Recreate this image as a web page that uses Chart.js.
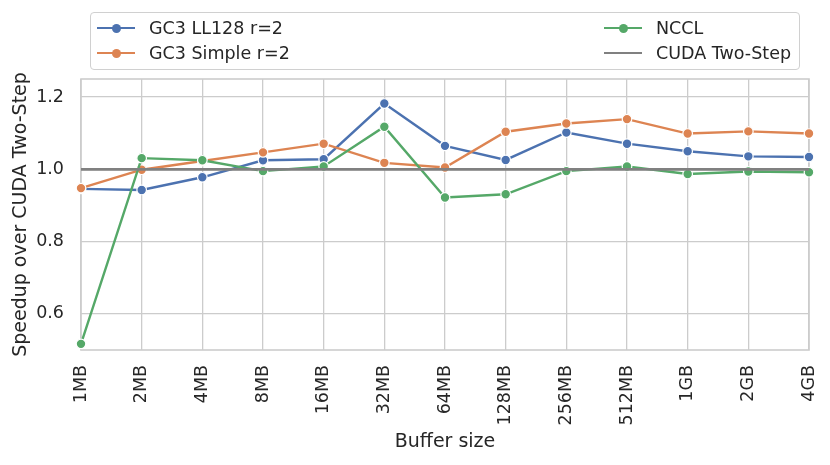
<!DOCTYPE html>
<html lang="en">
<head>
  <meta charset="UTF-8">
  <title>Speedup over CUDA Two-Step</title>
  <style>
    * {
      margin: 0;
      padding: 0;
      box-sizing: border-box;
    }

    body {
      background-color: #fff;
      font-family: "DejaVu Sans", sans-serif;
      color: #262626;
    }

    #wrap {
      position: relative;
      width: 830px;
      height: 465px;
    }

    #legend {
      position: absolute;
      left: 90px;
      top: 12px;
      width: 710px;
      height: 58px;
      border: 1.3px solid #d0d0d0;
      border-radius: 4px;
      background-color: rgba(255, 255, 255, 0.8);
    }

    .item {
      position: absolute;
      height: 24px;
      font-size: 17.5px;
      line-height: 24px;
      white-space: nowrap;
    }

    .handle {
      position: absolute;
      top: 11px;
      left: 0;
      width: 38px;
      height: 2.4px;
    }

    .dot {
      position: absolute;
      top: 7.5px;
      left: 14.5px;
      width: 9px;
      height: 9px;
      border-radius: 50%;
    }

    .label {
      position: absolute;
      left: 52px;
      top: 0;
    }
  </style>
  <script src="https://cdn.jsdelivr.net/npm/chart.js"></script>
</head>
<body>
  <div id="wrap">
    <canvas id="speedupChart" width="830" height="465"></canvas>
    <div id="legend"></div>
  </div>

  <script>
    // Buffer sizes on the x axis
    const bufferSizes = ['1MB', '2MB', '4MB', '8MB', '16MB', '32MB', '64MB',
      '128MB', '256MB', '512MB', '1GB', '2GB', '4GB'];

    // Speedup values
    const ll128Values = [0.946, 0.943, 0.978, 1.025, 1.028, 1.182, 1.065,
      1.026, 1.102, 1.071, 1.050, 1.036, 1.034];
    const simpleValues = [0.948, 0.999, 1.023, 1.047, 1.071, 1.018, 1.005,
      1.104, 1.127, 1.139, 1.099, 1.105, 1.099];
    const ncclValues = [0.517, 1.031, 1.025, 0.995, 1.008, 1.118, 0.922,
      0.931, 0.995, 1.008, 0.987, 0.994, 0.992];
    const cudaValues = [1.0, 1.0, 1.0, 1.0, 1.0, 1.0, 1.0,
      1.0, 1.0, 1.0, 1.0, 1.0, 1.0];

    const yTicks = [0.6, 0.8, 1.0, 1.2];

    const textColor = '#262626';
    const gridColor = '#cccccc';

    // Legend entries (left column first, like the original)
    const legendItems = [
      { text: 'GC3 LL128 r=2', color: '#4c72b0', marker: true, x: 6, y: 3 },
      { text: 'GC3 Simple r=2', color: '#dd8452', marker: true, x: 6, y: 28 },
      { text: 'NCCL', color: '#55a868', marker: true, x: 513, y: 3 },
      { text: 'CUDA Two-Step', color: '#808080', marker: false, x: 513, y: 28 }
    ];

    const legendBox = document.getElementById('legend');
    legendItems.forEach(item => {
      const el = document.createElement('div');
      el.className = 'item';
      el.style.left = item.x + 'px';
      el.style.top = item.y + 'px';
      let html = '<span class="handle" style="background:' + item.color + '"></span>';
      if (item.marker) {
        html += '<span class="dot" style="background:' + item.color + '"></span>';
      }
      html += '<span class="label">' + item.text + '</span>';
      el.innerHTML = html;
      legendBox.appendChild(el);
    });

    // Light gray frame round the plot area, like the seaborn spines
    const frame = {
      id: 'frame',
      beforeDatasetsDraw(chart) {
        const { ctx, chartArea } = chart;
        ctx.save();
        ctx.strokeStyle = gridColor;
        ctx.lineWidth = 1.6;
        ctx.strokeRect(chartArea.left, chartArea.top,
          chartArea.right - chartArea.left, chartArea.bottom - chartArea.top);
        ctx.restore();
      }
    };

    function lineSet(label, data, color, order) {
      return {
        label: label,
        data: data,
        borderColor: color,
        backgroundColor: color,
        borderWidth: 2.4,
        pointRadius: 4.8,
        pointBorderColor: '#ffffff',
        pointBorderWidth: 1.2,
        pointBackgroundColor: color,
        tension: 0,
        order: order
      };
    }

    const ctx = document.getElementById('speedupChart').getContext('2d');

    new Chart(ctx, {
      type: 'line',
      data: {
        labels: bufferSizes,
        datasets: [
          lineSet('GC3 LL128 r=2', ll128Values, '#4c72b0', 4),
          lineSet('GC3 Simple r=2', simpleValues, '#dd8452', 3),
          lineSet('NCCL', ncclValues, '#55a868', 2),
          {
            label: 'CUDA Two-Step',
            data: cudaValues,
            borderColor: '#808080',
            borderWidth: 2.6,
            pointRadius: 0,
            order: 1
          }
        ]
      },
      options: {
        responsive: false,
        animation: false,
        layout: {
          padding: { top: 79, right: 21, left: 0, bottom: 0 }
        },
        plugins: {
          legend: { display: false },
          tooltip: { enabled: false }
        },
        scales: {
          x: {
            offset: false,
            grid: { color: gridColor, lineWidth: 1.3, drawTicks: false },
            border: { display: false },
            ticks: {
              color: textColor,
              font: { family: 'DejaVu Sans', size: 17.5 },
              maxRotation: 90,
              minRotation: 90,
              autoSkip: false,
              padding: 15
            },
            title: {
              display: true,
              text: 'Buffer size',
              color: textColor,
              font: { family: 'DejaVu Sans', size: 19 },
              padding: { top: 0, bottom: 12 }
            },
            afterFit(scale) {
              scale.height = 115;
              scale.paddingLeft = 0;
              scale.paddingRight = 0;
            }
          },
          y: {
            min: 0.5,
            max: 1.25,
            grid: { color: gridColor, lineWidth: 1.3, drawTicks: false },
            border: { display: false },
            afterBuildTicks(scale) {
              scale.ticks = yTicks.map(v => ({ value: v }));
            },
            ticks: {
              color: textColor,
              font: { family: 'DejaVu Sans', size: 17.5 },
              padding: 17,
              callback: v => Number(v).toFixed(1)
            },
            title: {
              display: true,
              text: 'Speedup over CUDA Two-Step',
              color: textColor,
              font: { family: 'DejaVu Sans', size: 19 },
              padding: { top: 10, bottom: 0 }
            },
            afterFit(scale) {
              scale.width = 81;
              scale.paddingTop = 0;
              scale.paddingBottom = 0;
            }
          }
        }
      },
      plugins: [frame]
    });
  </script>
</body>
</html>
